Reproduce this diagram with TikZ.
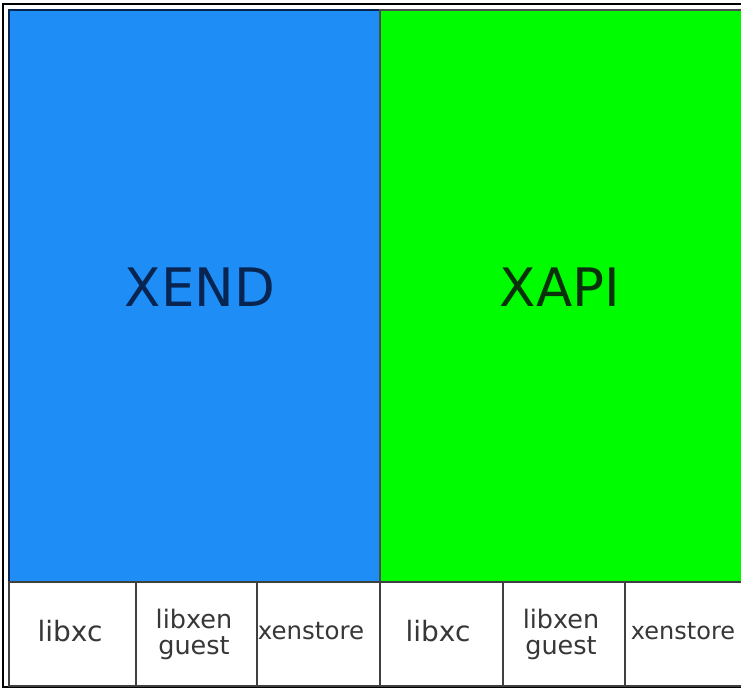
\documentclass[tikz,border=0pt]{standalone}
\usepackage{fontspec}
\setmainfont{DejaVu Sans}
\usepackage{tikz}

\definecolor{xendblue}{RGB}{30,142,246}
\definecolor{xendtext}{RGB}{8,36,80}
\definecolor{xapigreen}{RGB}{0,252,0}
\definecolor{xapitext}{RGB}{10,50,10}
\definecolor{libtext}{RGB}{55,55,55}

\begin{document}
\begin{tikzpicture}[x=1pt,y=-1pt,
    stack/.style={line width=1.6pt},
    libcell/.style={draw=black!75,line width=1.4pt,fill=white},
    libname/.style={text=libtext,align=center,inner sep=0pt}]
      \useasboundingbox (0,0) rectangle (741,689);
      \fill[white] (0,0) rectangle (741,689);
      % frame
      \draw[line width=2pt] (745,4) -- (3,4) -- (3,687) -- (745,687);
      % XEND
      \draw[stack,fill=xendblue,draw=xendtext] (9,10) rectangle (380,582);
      \node[text=xendtext,font=\fontsize{53}{55}\selectfont] (xend) at (200,287) {XEND};
      % XAPI
      \draw[stack,fill=xapigreen,draw=black!70] (380,10) rectangle (745,582);
      \node[text=xapitext,font=\fontsize{53}{55}\selectfont] (xapi) at (560,287) {XAPI};
      % libs under XEND
      \draw[libcell] (9,582) rectangle (136,686);
      \draw[libcell] (136,582) rectangle (257,686);
      \draw[libcell] (257,582) rectangle (380,686);
      \node[libname,font=\fontsize{28}{30}\selectfont] (xcA) at (70,631) {libxc};
      \node[libname,font=\fontsize{25.5}{26}\selectfont] (guestA) at (194,634) {libxen\\guest};
      \node[libname,font=\fontsize{24.5}{26}\selectfont] (storeA) at (311,631) {xenstore};
      % libs under XAPI
      \draw[libcell] (380,582) rectangle (503,686);
      \draw[libcell] (503,582) rectangle (625,686);
      \draw[libcell] (625,582) rectangle (745,686);
      \node[libname,font=\fontsize{28}{30}\selectfont] (xcB) at (438,631) {libxc};
      \node[libname,font=\fontsize{25.5}{26}\selectfont] (guestB) at (561,634) {libxen\\guest};
      \node[libname,font=\fontsize{24}{26}\selectfont] (storeB) at (683,631) {xenstore};
    \end{tikzpicture}
\end{document}
